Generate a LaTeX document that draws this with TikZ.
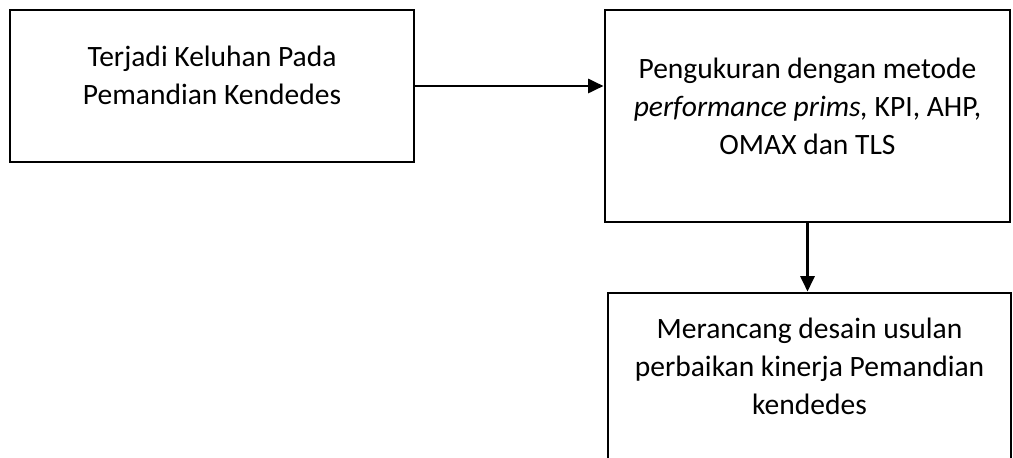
\documentclass[tikz,border=0pt]{standalone}
\usepackage{fontspec}
\setmainfont{Carlito}
\usetikzlibrary{arrows.meta}
\begin{document}
\begin{tikzpicture}[x=0.025cm, y=-0.025cm,
    kotak/.style={draw, line width=2pt, align=center, inner sep=0pt,
        font=\fontsize{21}{27}\selectfont},
    panah/.style={-{Triangle[length=11pt,width=10pt]}, line width=2pt}]
    \useasboundingbox (0,0) rectangle (1013,458);
    % Kotak
    \node[kotak, minimum width=10.1cm, minimum height=3.8cm] (keluhan) at (212,86)
        {Terjadi Keluhan Pada\\Pemandian Kendedes\rule[-15pt]{0pt}{0pt}};
    \node[kotak, minimum width=10.125cm, minimum height=5.3cm] (ukur) at (807.5,116)
        {Pengukuran dengan metode\\\textit{performance prims,} KPI, AHP,\\OMAX dan TLS\rule[-14pt]{0pt}{0pt}};
    \node[kotak, minimum width=10.075cm, minimum height=5cm] (desain) at (809.5,393)
        {Merancang desain usulan\\perbaikan kinerja Pemandian\\kendedes\rule[-38pt]{0pt}{0pt}};
    % Panah
    \draw[panah] (keluhan.east) -- (keluhan.east -| ukur.west);
    \draw[panah] (ukur.south) -- (ukur.south |- desain.north);
\end{tikzpicture}
\end{document}
